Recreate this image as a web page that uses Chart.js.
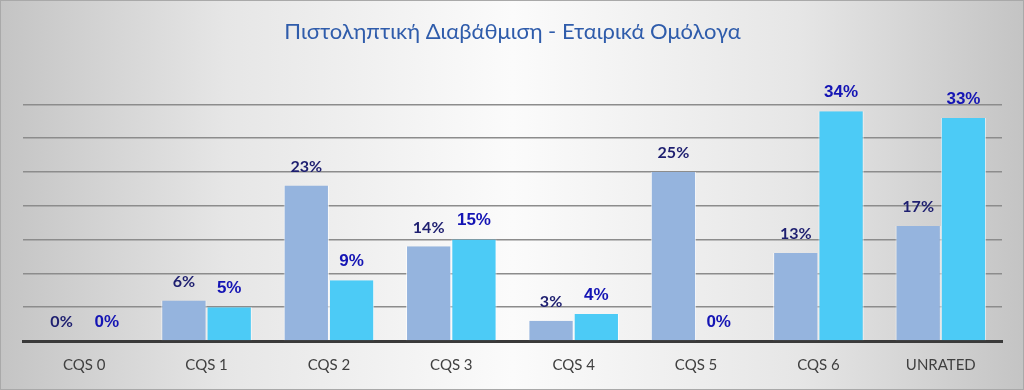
<!DOCTYPE html>
<html>
<head>
<meta charset="utf-8">
<script src="https://cdn.jsdelivr.net/npm/chart.js@4/dist/chart.umd.min.js"></script>
<style>
  html, body { margin: 0; padding: 0; }
  body { width: 1024px; height: 390px; overflow: hidden; }
  .chart-box {
    position: relative;
    width: 1022px; height: 388px;
    border: 1px solid #a9a9a9;
    background: linear-gradient(to right, #c4c4c4 0%, #e6e6e6 22%, #fbfbfb 50%, #e6e6e6 78%, #c4c4c4 100%);
  }
</style>
</head>
<body>
<div class="chart-box">
  <canvas id="ratingChart" width="1022" height="388"></canvas>
</div>
<script>
// categories and values (percent)
const categories = ['CQS 0', 'CQS 1', 'CQS 2', 'CQS 3', 'CQS 4', 'CQS 5', 'CQS 6', 'UNRATED'];
const seriesA = [0, 6, 23, 14, 3, 25, 13, 17];
const seriesB = [0, 5, 9, 15, 4, 0, 34, 33];
const yMax = 35;
const yStep = 5;

// draws the % labels above each bar (no datalabels plugin available)
const barLabels = {
  id: 'barLabels',
  afterDatasetsDraw(chart) {
    const ctx = chart.ctx;
    ctx.save();
    ctx.textAlign = 'center';
    ctx.textBaseline = 'middle';
    chart.data.datasets.forEach((ds, i) => {
      const meta = chart.getDatasetMeta(i);
      meta.data.forEach((bar, j) => {
        if (i === 0) {
          ctx.font = 'bold 16px Lato, "Noto Sans", sans-serif';
          ctx.fillStyle = '#1e1f70';
        } else {
          ctx.font = 'bold 17px "Liberation Sans", Arial, sans-serif';
          ctx.fillStyle = '#1414b4';
        }
        ctx.fillText(ds.data[j] + '%', bar.x, bar.y - 19);
      });
    });
    ctx.restore();
  }
};

const ctx = document.getElementById('ratingChart').getContext('2d');
new Chart(ctx, {
  type: 'bar',
  data: {
    labels: categories,
    datasets: [
      {
        label: 'A',
        data: seriesA,
        backgroundColor: '#95b4de',
        borderColor: 'rgba(255,255,255,0.7)',
        borderWidth: { left: 1, right: 1, top: 0, bottom: 0 },
        categoryPercentage: 0.74,
        barPercentage: 1.0
      },
      {
        label: 'B',
        data: seriesB,
        backgroundColor: '#4ccbf6',
        borderColor: 'rgba(255,255,255,0.7)',
        borderWidth: { left: 1, right: 1, top: 0, bottom: 0 },
        categoryPercentage: 0.74,
        barPercentage: 1.0
      }
    ]
  },
  options: {
    responsive: false,
    animation: false,
    layout: { padding: { left: 22, right: 21, top: 0, bottom: 0 } },
    plugins: {
      legend: { display: false },
      tooltip: { enabled: false },
      title: {
        display: true,
        text: 'Πιστοληπτική Διαβάθμιση - Εταιρικά Ομόλογα',
        color: '#2f5cab',
        font: { family: 'Lato, "Noto Sans", sans-serif', size: 22, weight: 'normal' },
        padding: { top: 18, bottom: 59 }
      }
    },
    scales: {
      x: {
        grid: { display: false, drawTicks: false },
        border: { display: true, color: '#3a3a3a', width: 3 },
        ticks: {
          color: '#404040',
          font: { family: 'Lato, "Noto Sans", sans-serif', size: 15 },
          padding: 15
        }
      },
      y: {
        min: 0,
        max: yMax,
        grid: { color: '#8c8c8c', lineWidth: 1.5, drawTicks: false },
        border: { display: false },
        ticks: { display: false, stepSize: yStep }
      }
    }
  },
  plugins: [barLabels]
});
</script>
</body>
</html>
